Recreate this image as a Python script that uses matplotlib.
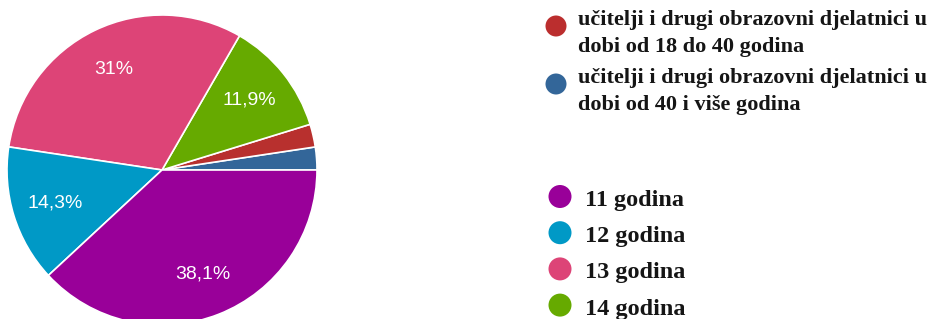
import matplotlib.pyplot as plt

# slice data (counts out of 42 respondents), drawn counter-clockwise from 3 o'clock
slice_names = ['stariji od 40', 'od 18 do 40', '14 godina', '13 godina', '12 godina', '11 godina']
slice_values = [1, 1, 5, 13, 6, 16]
slice_colors = ['#336699', '#b8302e', '#66aa00', '#dd4477', '#0099c6', '#990099']

teacher_labels = [
    'učitelji i drugi obrazovni djelatnici u\ndobi od 18 do 40 godina',
    'učitelji i drugi obrazovni djelatnici u\ndobi od 40 i više godina',
]
teacher_colors = ['#bb2e2e', '#336699']

age_labels = ['11 godina', '12 godina', '13 godina', '14 godina']
age_colors = ['#990099', '#0099c6', '#dd4477', '#66aa00']

W, H = 932, 319


def pct_label(pct):
    if pct < 5:
        return ''
    txt = f'{pct:.1f}'.replace('.', ',')
    if txt.endswith(',0'):
        txt = txt[:-2]
    return txt + '%'


fig = plt.figure(figsize=(W / 100, H / 100), dpi=100)

# pie axes: centre (162, 170) px, radius 155 px
cx, cy, r = 162, 170, 155
ax = fig.add_axes([(cx - r) / W, (H - cy - r) / H, 2 * r / W, 2 * r / H])
wedges, texts, autotexts = ax.pie(
    slice_values,
    colors=slice_colors,
    startangle=0,
    counterclock=True,
    autopct=pct_label,
    pctdistance=0.72,
    wedgeprops=dict(edgecolor='white', linewidth=1.2),
    textprops=dict(color='white', fontsize=14, family='Liberation Sans'),
)
ax.set_xlim(-1, 1)
ax.set_ylim(-1, 1)
ax.set_aspect('equal')

# legend drawn in pixel coordinates on an overlay axes
lg = fig.add_axes([0, 0, 1, 1])
lg.set_xlim(0, W)
lg.set_ylim(H, 0)
lg.axis('off')

serif = dict(fontweight='bold', family='Liberation Serif', color='#151515',
             ha='left', va='baseline')

for i, (lab, col) in enumerate(zip(teacher_labels, teacher_colors)):
    y0 = 26 + i * 58
    lg.scatter([556], [y0], s=(21 * 0.72) ** 2, color=col, edgecolors='none')
    for j, line in enumerate(lab.split('\n')):
        lg.text(578, y0 - 1.5 + j * 27.2, line, fontsize=16, **serif)

for i, (lab, col) in enumerate(zip(age_labels, age_colors)):
    y0 = 196.5 + i * 36.2
    lg.scatter([560], [y0], s=(23 * 0.72) ** 2, color=col, edgecolors='none')
    lg.text(585, y0 + 9.5, lab, fontsize=17.5, **serif)

fig.savefig('out.png', dpi=100)
